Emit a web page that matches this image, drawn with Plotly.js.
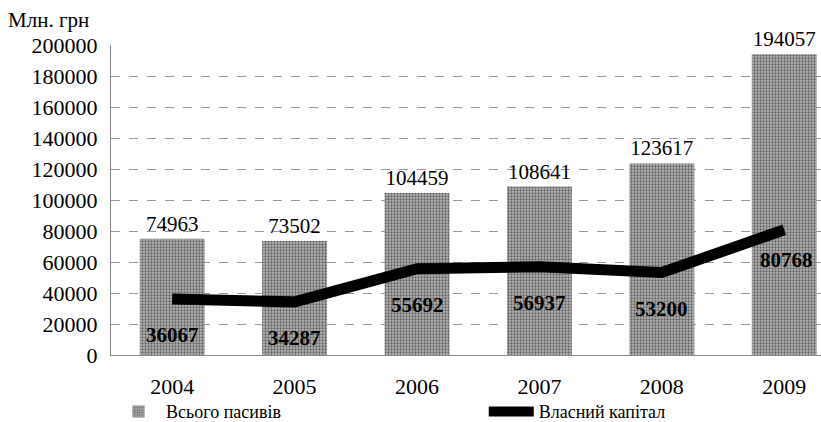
<!DOCTYPE html>
<html><head><meta charset="utf-8">
<script src="https://cdn.plot.ly/plotly-3.0.1.min.js"></script>
<style>html,body{margin:0;padding:0;background:#fff}</style>
</head><body>
<div id="chart" style="width:821px;height:422px"></div>
<script>
const years = ['2004','2005','2006','2007','2008','2009'];
const totalLiabilities = [74963, 73502, 104459, 108641, 123617, 194057];
const ownCapital = [36067, 34287, 55692, 56937, 53200, 80768];
const yTicks = [0,20000,40000,60000,80000,100000,120000,140000,160000,180000,200000];

const serif = 'Liberation Serif';

const traces = [
  {
    type: 'bar', x: years, y: totalLiabilities, name: 'Всього пасивів',
    width: 0.53, legend: 'legend',
    marker: {color: '#a0a0a0', line: {width: 0},
             pattern: {shape: '.', fgcolor: '#626262', bgcolor: '#b6b6b6', size: 3, solidity: 0.45}},
    text: totalLiabilities.map(String), textposition: 'outside', cliponaxis: false,
    textfont: {family: serif, size: 21, color: '#000'}
  },
  {
    type: 'scatter', mode: 'lines', x: years, y: ownCapital, name: 'Власний капітал',
    legend: 'legend2',
    line: {color: '#000', width: 11}
  }
];

const annotations = ownCapital.map((v, i) => ({
  x: i, y: v, xref: 'x', yref: 'y', text: '<b>' + v + '</b>', showarrow: false,
  yshift: i === 5 ? -30 : -36, xshift: i === 5 ? 2 : 0,
  font: {family: serif, size: 21, color: '#000'}
}));
annotations.push({text: 'Млн. грн', xref: 'paper', yref: 'paper', x: -0.148, y: 1.08,
  xanchor: 'left', yanchor: 'middle', showarrow: false,
  font: {family: serif, size: 21, color: '#000'}});

const legendCommon = {orientation: 'h', yanchor: 'middle', xanchor: 'left', y: -0.183,
  font: {family: serif, size: 18}, bgcolor: 'rgba(0,0,0,0)', itemwidth: 45,
  tracegroupgap: 0};

const layout = {
  width: 821, height: 422,
  margin: {l: 111, r: 0, t: 45, b: 67, autoexpand: false},
  paper_bgcolor: '#fff', plot_bgcolor: '#fff',
  font: {family: serif, color: '#000', size: 20},
  showlegend: true,
  legend: Object.assign({x: 0.0}, legendCommon),
  legend2: Object.assign({x: 0.525}, legendCommon),
  xaxis: {type: 'category', range: [-0.5, 5.3], showgrid: false, showline: true, linecolor: '#888', linewidth: 1,
          ticks: '', ticklabelstandoff: 12, tickfont: {family: serif, size: 22}},
  yaxis: {range: [0, 200000], tickvals: yTicks, ticktext: yTicks.map(String),
          showgrid: true, gridcolor: '#999', griddash: 'dash', gridwidth: 1,
          showline: true, linecolor: '#888', zeroline: false, ticks: '',
          ticklabelstandoff: 8, tickfont: {family: serif, size: 22}},
  annotations: annotations
};

Plotly.newPlot('chart', traces, layout, {displayModeBar: false, staticPlot: true});
</script>
</body></html>
